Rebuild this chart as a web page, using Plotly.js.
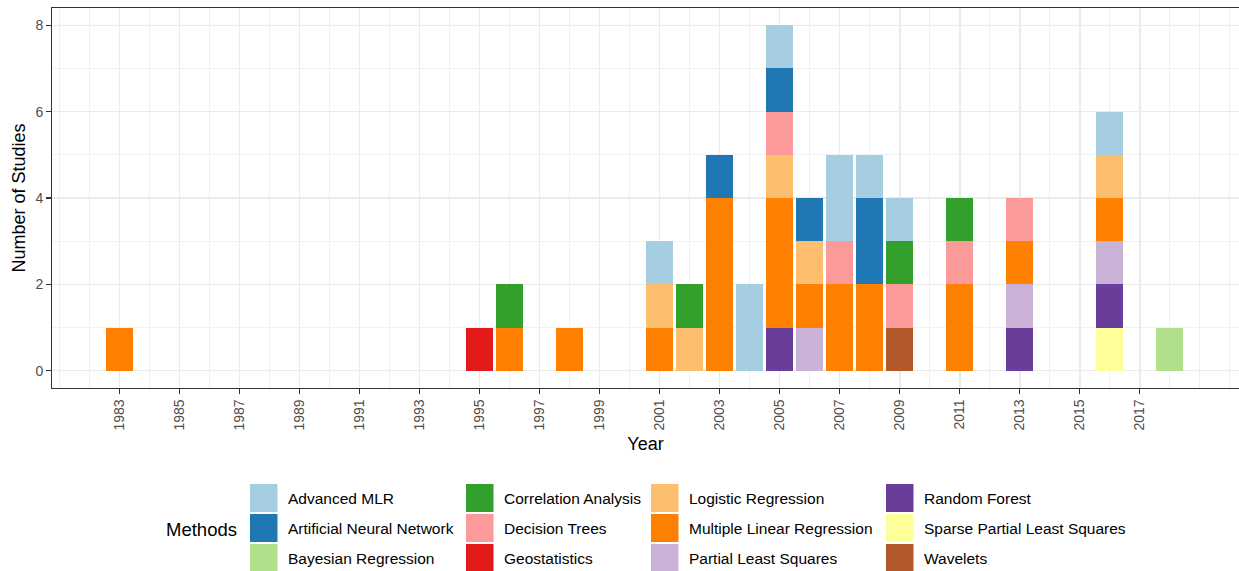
<!DOCTYPE html>
<html>
<head>
<meta charset="utf-8">
<script src="https://cdn.plot.ly/plotly-3.0.1.min.js"></script>
<style>
  html, body { margin: 0; padding: 0; background: #ffffff; }
  #chart { width: 1239px; height: 571px; }
</style>
</head>
<body>
<div id="chart"></div>
<script>
// ---- Data ----
const methods = [
  "Advanced MLR", "Artificial Neural Network", "Bayesian Regression",
  "Correlation Analysis", "Decision Trees", "Geostatistics",
  "Logistic Regression", "Multiple Linear Regression", "Partial Least Squares",
  "Random Forest", "Sparse Partial Least Squares", "Wavelets"
];
const methodColors = [
  "#A6CEE3", "#1F78B4", "#B2DF8A",
  "#33A02C", "#FB9A99", "#E31A1C",
  "#FDBF6F", "#FF7F00", "#CAB2D6",
  "#6A3D9A", "#FFFF99", "#B15928"
];

const advMLRYears = [2001, 2004, 2005, 2007, 2008, 2009, 2016];
const advMLRCounts = [1, 2, 1, 2, 1, 1, 1];
const annYears = [2003, 2005, 2006, 2008];
const annCounts = [1, 1, 1, 2];
const bayesYears = [2018];
const bayesCounts = [1];
const corrYears = [1996, 2002, 2009, 2011];
const corrCounts = [1, 1, 1, 1];
const dtYears = [2005, 2007, 2009, 2011, 2013];
const dtCounts = [1, 1, 1, 1, 1];
const geoYears = [1995];
const geoCounts = [1];
const logisticYears = [2001, 2002, 2005, 2006, 2016];
const logisticCounts = [1, 1, 1, 1, 1];
const mlrYears = [1983, 1996, 1998, 2001, 2003, 2005, 2006, 2007, 2008, 2011, 2013, 2016];
const mlrCounts = [1, 1, 1, 1, 4, 3, 1, 2, 2, 2, 1, 1];
const plsYears = [2006, 2013, 2016];
const plsCounts = [1, 1, 1];
const rfYears = [2005, 2013, 2016];
const rfCounts = [1, 1, 1];
const splsYears = [2016];
const splsCounts = [1];
const waveletYears = [2009];
const waveletCounts = [1];

const xTickYears = [1983, 1985, 1987, 1989, 1991, 1993, 1995, 1997, 1999,
                    2001, 2003, 2005, 2007, 2009, 2011, 2013, 2015, 2017];
const yTickValues = [0, 2, 4, 6, 8];

const methodYears = [advMLRYears, annYears, bayesYears, corrYears, dtYears, geoYears,
                     logisticYears, mlrYears, plsYears, rfYears, splsYears, waveletYears];
const methodCounts = [advMLRCounts, annCounts, bayesCounts, corrCounts, dtCounts, geoCounts,
                      logisticCounts, mlrCounts, plsCounts, rfCounts, splsCounts, waveletCounts];

// ---- Traces: first level on top (ggplot order) => add in reverse ----
const traces = [];
for (let i = methods.length - 1; i >= 0; i--) {
  traces.push({
    type: "bar",
    name: methods[i],
    x: methodYears[i],
    y: methodCounts[i],
    width: 0.9,
    marker: { color: methodColors[i], line: { width: 0 } },
    showlegend: false,
    hoverinfo: "skip"
  });
}

// ---- Geometry ----
const W = 1239, H = 571;
const M = { l: 52, r: 0, t: 8, b: 183 };
const plotW = W - M.l - M.r, plotH = H - M.t - M.b;
const px2x = p => (p - M.l) / plotW;
const py2y = p => (H - M.b - p) / plotH;

// ---- Manual legend (4 columns x 3 rows, column-major) ----
const colKeyX = [250, 466, 651, 886];
const rowTop = [484, 514, 544];
const keyW = 27.5, keyH = 28, textGap = 8.5;
const shapes = [];
const annotations = [];
methods.forEach((m, i) => {
  const c = Math.floor(i / 3), r = i % 3;
  const x0 = colKeyX[c], y0 = rowTop[r];
  shapes.push({
    type: "rect", xref: "paper", yref: "paper",
    x0: px2x(x0), x1: px2x(x0 + keyW), y0: py2y(y0 + keyH), y1: py2y(y0),
    fillcolor: methodColors[i], line: { width: 0 }, layer: "above"
  });
  annotations.push({
    xref: "paper", yref: "paper", x: px2x(x0 + keyW + textGap), y: py2y(y0 + keyH / 2),
    xanchor: "left", yanchor: "middle", showarrow: false, text: m,
    font: { size: 15.5, color: "#000000" }
  });
});
annotations.push({
  xref: "paper", yref: "paper", x: px2x(239), y: py2y(529),
  xanchor: "right", yanchor: "middle", showarrow: false, text: "Methods",
  font: { size: 18.5, color: "#000000" }
});

const layout = {
  width: W, height: H,
  margin: M,
  paper_bgcolor: "#ffffff",
  plot_bgcolor: "#ffffff",
  font: { family: "Liberation Sans, Arial, sans-serif", color: "#000000" },
  barmode: "stack",
  showlegend: false,
  xaxis: {
    range: [1980.76, 2020.3],
    tickmode: "array",
    tickvals: xTickYears,
    ticktext: xTickYears.map(String),
    tickangle: -90,
    tickfont: { size: 14, color: "#4D4D4D" },
    ticks: "outside", ticklen: 4.5, tickwidth: 1.1, tickcolor: "#333333",
    showline: true, linecolor: "#333333", linewidth: 1.3, mirror: true,
    showgrid: true, gridcolor: "#EBEBEB", gridwidth: 1.5,
    minor: { tickmode: "linear", tick0: 1983, dtick: 1, showgrid: true, gridcolor: "#EEEEEE", gridwidth: 0.8 },
    zeroline: false,
    automargin: false,
    title: { text: "Year", font: { size: 18, color: "#000000" }, standoff: 7 }
  },
  yaxis: {
    range: [-0.4, 8.4],
    tickmode: "array",
    tickvals: yTickValues,
    ticktext: yTickValues.map(String),
    tickfont: { size: 14, color: "#4D4D4D" },
    ticks: "outside", ticklen: 4.5, tickwidth: 1.1, tickcolor: "#333333",
    showline: true, linecolor: "#333333", linewidth: 1.3, mirror: false,
    showgrid: true, gridcolor: "#EBEBEB", gridwidth: 1.5,
    minor: { tickmode: "linear", tick0: 0, dtick: 1, showgrid: true, gridcolor: "#EEEEEE", gridwidth: 0.8 },
    zeroline: false,
    automargin: false,
    title: { text: "Number of Studies", font: { size: 18, color: "#000000" }, standoff: 5 }
  },
  shapes: shapes,
  annotations: annotations
};

Plotly.newPlot("chart", traces, layout, { displayModeBar: false, staticPlot: true });
</script>
</body>
</html>
